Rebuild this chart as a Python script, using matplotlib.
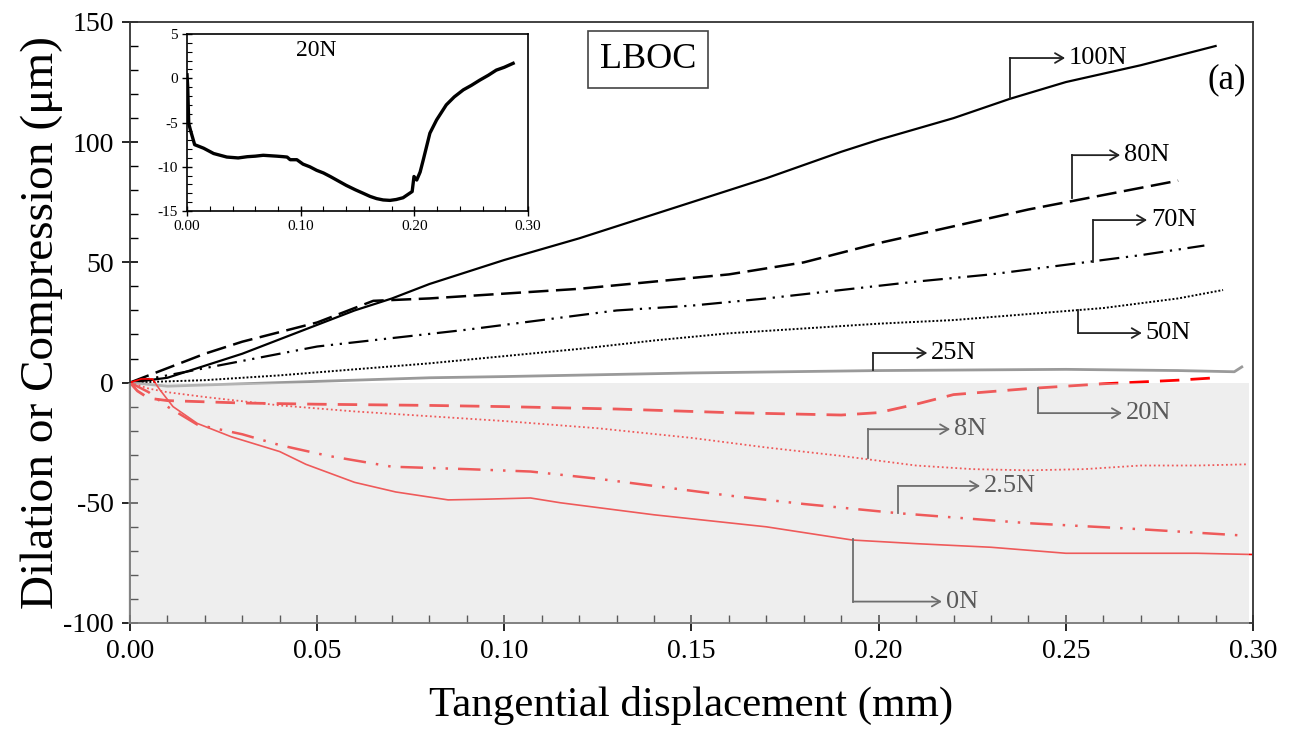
import matplotlib
matplotlib.use('Agg')
import matplotlib.pyplot as plt
from matplotlib.patches import Rectangle
from matplotlib.ticker import MultipleLocator

plt.rcParams['font.family'] = ['Liberation Serif', 'DejaVu Serif']
plt.rcParams['axes.unicode_minus'] = False

# dilation (+) / compression (-) vs tangential displacement, one curve per normal load
x_100 = [0, 0.01, 0.02, 0.03, 0.04, 0.05, 0.06, 0.07, 0.08, 0.10, 0.12, 0.15, 0.17,
         0.19, 0.20, 0.22, 0.235, 0.25, 0.27, 0.29]
y_100 = [0, 2, 7, 12, 18, 24, 30, 35, 41, 51, 60, 75, 85, 96, 101, 110, 118, 125, 132, 140]

x_80 = [0, 0.01, 0.02, 0.03, 0.04, 0.05, 0.055, 0.06, 0.065, 0.08, 0.10, 0.12, 0.14,
        0.16, 0.18, 0.19, 0.20, 0.22, 0.24, 0.26, 0.28]
y_80 = [0, 6, 12, 17, 21, 25, 28, 31, 34, 35, 37, 39, 42, 45, 50, 54, 58, 65, 72, 78, 84]

x_70 = [0, 0.01, 0.02, 0.03, 0.05, 0.07, 0.09, 0.11, 0.13, 0.15, 0.17, 0.19, 0.21,
        0.23, 0.25, 0.27, 0.287]
y_70 = [0, 3, 6, 9, 15, 18.5, 22, 26, 30, 32, 35, 38.5, 42, 45, 49, 53, 57]

x_50 = [0, 0.02, 0.04, 0.06, 0.08, 0.10, 0.12, 0.14, 0.16, 0.18, 0.20, 0.22, 0.24,
        0.26, 0.28, 0.292]
y_50 = [0, 1, 3, 5.5, 8, 11, 14, 17.5, 20.5, 22.5, 24.5, 26, 28.5, 31, 35, 38.5]

x_25 = [0, 0.01, 0.02, 0.04, 0.06, 0.08, 0.10, 0.15, 0.20, 0.25, 0.28, 0.295, 0.297]
y_25 = [0, -1.5, -1, 0, 1, 2, 2.5, 4, 5, 5.5, 5, 4.5, 6.5]

x_20 = [0, 0.002, 0.005, 0.01, 0.03, 0.05, 0.08, 0.10, 0.13, 0.16, 0.19, 0.20, 0.21,
        0.22, 0.24, 0.26, 0.28, 0.29]
y_20 = [0, -3.5, -6.5, -7.5, -8.5, -9, -9.5, -10, -11, -12.5, -13.5, -12.5, -9, -5,
        -2.5, -0.5, 1, 2]

x_8 = [0, 0.005, 0.01, 0.02, 0.04, 0.06, 0.08, 0.10, 0.125, 0.15, 0.17, 0.19, 0.20,
       0.21, 0.225, 0.24, 0.255, 0.27, 0.285, 0.2985]
y_8 = [0, -2.5, -4, -6, -9.5, -12, -14, -16, -19, -23, -27, -30.5, -32.5, -34.5, -36,
       -36.5, -36, -34.5, -34.5, -34]

x_2_5 = [0, 0.005, 0.01, 0.018, 0.03, 0.04, 0.053, 0.07, 0.09, 0.107, 0.125, 0.14,
         0.16, 0.18, 0.205, 0.24, 0.27, 0.296]
y_2_5 = [0, -4, -10, -17.5, -21.5, -26, -30.5, -35, -36, -37, -40, -43, -47, -50.5,
         -54.3, -58.5, -61, -63.5]

x_0 = [0, 0.003, 0.006, 0.008, 0.0115, 0.018, 0.027, 0.04, 0.047, 0.06, 0.071, 0.085,
       0.095, 0.107, 0.115, 0.125, 0.14, 0.155, 0.17, 0.193, 0.21, 0.23, 0.25, 0.27,
       0.285, 0.2995]
y_0 = [0, 1.5, 1.5, -3, -10, -17, -22.5, -28.7, -34, -41.5, -45.5, -48.8, -48.5, -48,
       -50, -52, -55, -57.5, -60, -65.5, -67, -68.5, -71, -71, -71, -71.5]

# inset: 20N close-up
x_in = [0, 0.0006, 0.0015, 0.003, 0.0067, 0.0146, 0.0234, 0.035, 0.045, 0.053, 0.060,
        0.067, 0.073, 0.079, 0.084, 0.088, 0.0907, 0.0966, 0.102, 0.108, 0.114, 0.120,
        0.126, 0.133, 0.140, 0.148, 0.155, 0.161, 0.1668, 0.1725, 0.1785, 0.184, 0.190,
        0.198, 0.1996, 0.202, 0.205, 0.2078, 0.2136, 0.2195, 0.228, 0.235, 0.243, 0.250,
        0.2575, 0.265, 0.272, 0.279, 0.2868]
y_in = [0.4, -0.95, -5.1, -5.85, -7.5, -7.9, -8.5, -8.9, -9.0, -8.86, -8.8, -8.7, -8.75,
        -8.8, -8.85, -8.9, -9.2, -9.2, -9.7, -10.0, -10.4, -10.7, -11.1, -11.6, -12.1,
        -12.6, -13.0, -13.35, -13.6, -13.75, -13.8, -13.7, -13.5, -12.8, -11.1, -11.5,
        -10.6, -9.2, -6.2, -4.7, -3.0, -2.1, -1.3, -0.8, -0.2, 0.35, 0.93, 1.25, 1.7]

# load labels: (text, x of elbow, y on curve, y of elbow, x arrow tip)
labels = [
    ('100N', 0.235, 118.4, 135.0, 0.2498),
    ('80N', 0.2516, 76.7, 94.6, 0.2645),
    ('70N', 0.2573, 50.0, 67.6, 0.2717),
    ('50N', 0.2533, 30.2, 20.6, 0.2703),
    ('25N', 0.1985, 5.2, 12.3, 0.213),
    ('20N', 0.2425, -2.3, -12.7, 0.265),
    ('8N', 0.1971, -31.4, -19.4, 0.2191),
    ('2.5N', 0.2052, -54.4, -43.0, 0.2271),
    ('0N', 0.1932, -65.0, -91.1, 0.2169),
]

fig = plt.figure(figsize=(12.97, 7.37), dpi=100)
ax = fig.add_axes([0.1002, 0.1547, 0.8659, 0.8155])

red = '#ff0000'
ax.plot(x_100, y_100, color='black', lw=1.6, ls='-')
ax.plot(x_80, y_80, color='black', lw=1.8, ls=(0, (8, 3)))
ax.plot(x_70, y_70, color='black', lw=1.6, ls=(0, (9, 3, 1, 3, 1, 3)))
ax.plot(x_50, y_50, color='black', lw=1.4, ls=(0, (1, 1)))
ax.plot(x_25, y_25, color='#9a9a9a', lw=2.0, ls='-')
ax.plot(x_20, y_20, color=red, lw=2.0, ls=(0, (7, 4)))
ax.plot(x_8, y_8, color=red, lw=1.3, ls=(0, (1, 1.5)))
ax.plot(x_2_5, y_2_5, color=red, lw=1.8, ls=(0, (9, 4, 1, 4, 1, 4)))
ax.plot(x_0, y_0, color=red, lw=1.2, ls='-')

for text, xe, yc, ye, xt in labels:
    ax.plot([xe, xe], [yc, ye], color='#222222', lw=1.3)
    ax.annotate('', xy=(xt, ye), xytext=(xe, ye),
                arrowprops=dict(arrowstyle='->,head_length=0.6,head_width=0.35',
                                color='#222222', lw=1.3, shrinkA=0, shrinkB=0))
    ax.text(xt + 0.001, ye, text, fontsize=19, va='center', ha='left', color='black')

# compression zone shading, laid over the curves
ax.add_patch(Rectangle((-0.0006, -100.6), 0.2996, 100.6, facecolor='#d8d8d8',
                       edgecolor='none', alpha=0.42, zorder=10, clip_on=False))

ax.set_xlim(0, 0.30)
ax.set_ylim(-100, 150)
ax.xaxis.set_major_locator(MultipleLocator(0.05))
ax.xaxis.set_minor_locator(MultipleLocator(0.01))
ax.yaxis.set_major_locator(MultipleLocator(50))
ax.yaxis.set_minor_locator(MultipleLocator(10))
ax.xaxis.set_major_formatter(plt.FuncFormatter(lambda v, p: f'{v:.2f}'))
ax.tick_params(which='major', direction='inout', length=11, width=1.2, labelsize=20,
               pad=6)
ax.tick_params(which='minor', direction='in', length=6, width=1.0)
ax.tick_params(top=False, right=False, which='both')
for s in ax.spines.values():
    s.set_linewidth(1.3)
    s.set_color('#333333')

ax.set_xlabel('Tangential displacement (mm)', fontsize=31, labelpad=16)
ax.set_ylabel('Dilation or Compression (μm)', fontsize=34, labelpad=0)

ax.text(0.461, 0.937, 'LBOC', transform=ax.transAxes, fontsize=26, ha='center',
        va='center', bbox=dict(boxstyle='square,pad=0.33', facecolor='white',
                               edgecolor='#444444', lw=1.2))
ax.text(0.977, 0.9035, '(a)', transform=ax.transAxes, fontsize=25, ha='center',
        va='center')

# inset
axi = fig.add_axes([0.1442, 0.7137, 0.263, 0.240])
axi.plot(x_in, y_in, color='black', lw=2.4)
axi.set_xlim(0, 0.30)
axi.set_ylim(-15, 5)
axi.xaxis.set_major_locator(MultipleLocator(0.10))
axi.xaxis.set_minor_locator(MultipleLocator(0.02))
axi.yaxis.set_major_locator(MultipleLocator(5))
axi.yaxis.set_minor_locator(MultipleLocator(1))
axi.xaxis.set_major_formatter(plt.FuncFormatter(lambda v, p: f'{v:.2f}'))
axi.tick_params(which='major', direction='inout', length=7, width=1.0, labelsize=11,
                pad=3)
axi.tick_params(which='minor', direction='in', length=3.5, width=0.8)
for s in axi.spines.values():
    s.set_linewidth(1.2)
axi.text(0.114, 3.2, '20N', fontsize=17, ha='center', va='center')

fig.savefig('out.png', dpi=100)
